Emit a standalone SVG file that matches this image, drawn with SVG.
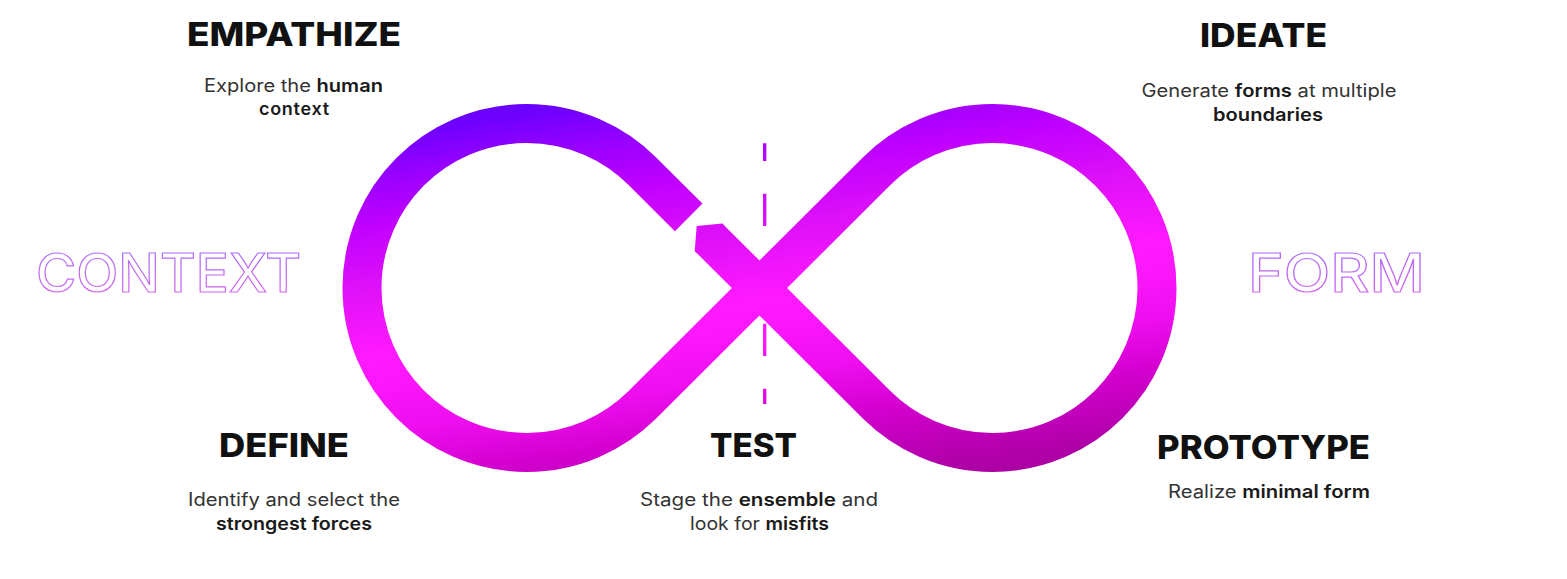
<svg xmlns="http://www.w3.org/2000/svg" width="1567" height="579" viewBox="0 0 1567 579">
  <defs>
    <linearGradient id="loopGrad" gradientUnits="userSpaceOnUse" x1="524" y1="90" x2="589" y2="536">
      <stop offset="0" stop-color="#6200ff"/>
      <stop offset="0.05" stop-color="#6e00ff"/>
      <stop offset="0.164" stop-color="#a000ff"/>
      <stop offset="0.249" stop-color="#c000ff"/>
      <stop offset="0.378" stop-color="#dd10f8"/>
      <stop offset="0.533" stop-color="#ff19ff"/>
      <stop offset="0.589" stop-color="#fc18fc"/>
      <stop offset="0.704" stop-color="#ee0ef0"/>
      <stop offset="0.811" stop-color="#d400d0"/>
      <stop offset="0.956" stop-color="#b000a8"/>
      <stop offset="1" stop-color="#aa00a2"/>
    </linearGradient>
    <linearGradient id="outlineGrad" x1="0" y1="0" x2="0" y2="1">
      <stop offset="0" stop-color="#a070ff"/>
      <stop offset="1" stop-color="#e066ec"/>
    </linearGradient>
  </defs>
  <style>
    .title { font-family: Inter, "Liberation Sans", sans-serif; font-weight: 800; font-size: 33px; fill: #111111; text-anchor: middle; }
    .body { font-family: Inter, "Liberation Sans", sans-serif; font-weight: 400; font-size: 18px; fill: #333333; text-anchor: middle; }
    .body .b { font-weight: 600; fill: #1a1a1a; }
    .outline { font-family: Inter, "Liberation Sans", sans-serif; font-weight: 500; font-size: 54px; fill: #ffffff; stroke: url(#outlineGrad); stroke-width: 1.2; }
    .loop { fill: none; stroke: url(#loopGrad); stroke-width: 39; stroke-linecap: butt; stroke-linejoin: round; }
  </style>
  <rect width="1567" height="579" fill="#ffffff"/>

  <g id="connectors">
    <path class="loop" d="M 708.5 237.2 L 876.36 404.5 A 164.5 164.5 0 1 0 876.36 171.5 L 642.64 404.5 A 164.5 164.5 0 1 1 642.64 171.5 L 688.7 217.4"/>
    <polygon points="722.3,223.4 696.7,226 694.7,251 696.8,253.1 724.4,225.5" fill="url(#loopGrad)"/>
    <line x1="764.7" y1="143.3" x2="764.7" y2="404" stroke="url(#loopGrad)" stroke-width="3.3" stroke-dasharray="32.3 32.7" stroke-dashoffset="14.6"/>
  </g>

  <g id="context-label">
    <text class="outline" x="36" y="292" textLength="265" lengthAdjust="spacingAndGlyphs">CONTEXT</text>
  </g>
  <g id="form-label">
    <text class="outline" x="1248" y="292" textLength="177" lengthAdjust="spacingAndGlyphs">FORM</text>
  </g>

  <g id="empathize">
    <text class="title" x="294" y="46" textLength="214" lengthAdjust="spacingAndGlyphs">EMPATHIZE</text>
    <text class="body" x="293.5" y="92" textLength="179" lengthAdjust="spacingAndGlyphs">Explore the <tspan class="b">human</tspan></text>
    <text class="body" x="294" y="115" textLength="70" lengthAdjust="spacing"><tspan class="b">context</tspan></text>
  </g>

  <g id="ideate">
    <text class="title" x="1263.5" y="47" textLength="127" lengthAdjust="spacingAndGlyphs">IDEATE</text>
    <text class="body" x="1269" y="97" textLength="255" lengthAdjust="spacingAndGlyphs">Generate <tspan class="b">forms</tspan> at multiple</text>
    <text class="body" x="1268" y="121" textLength="110" lengthAdjust="spacingAndGlyphs"><tspan class="b">boundaries</tspan></text>
  </g>

  <g id="define">
    <text class="title" x="284" y="457" textLength="130" lengthAdjust="spacingAndGlyphs">DEFINE</text>
    <text class="body" x="294" y="506" textLength="212" lengthAdjust="spacingAndGlyphs">Identify and select the</text>
    <text class="body" x="294" y="530" textLength="156" lengthAdjust="spacingAndGlyphs"><tspan class="b">strongest forces</tspan></text>
  </g>

  <g id="test">
    <text class="title" x="753.5" y="457" textLength="87" lengthAdjust="spacingAndGlyphs">TEST</text>
    <text class="body" x="759" y="506" textLength="238" lengthAdjust="spacingAndGlyphs">Stage the <tspan class="b">ensemble</tspan> and</text>
    <text class="body" x="759.5" y="530" textLength="139" lengthAdjust="spacingAndGlyphs">look for <tspan class="b">misfits</tspan></text>
  </g>

  <g id="prototype">
    <text class="title" x="1263.5" y="459" textLength="213" lengthAdjust="spacingAndGlyphs">PROTOTYPE</text>
    <text class="body" x="1269" y="498" textLength="202" lengthAdjust="spacingAndGlyphs">Realize <tspan class="b">minimal form</tspan></text>
  </g>
</svg>
